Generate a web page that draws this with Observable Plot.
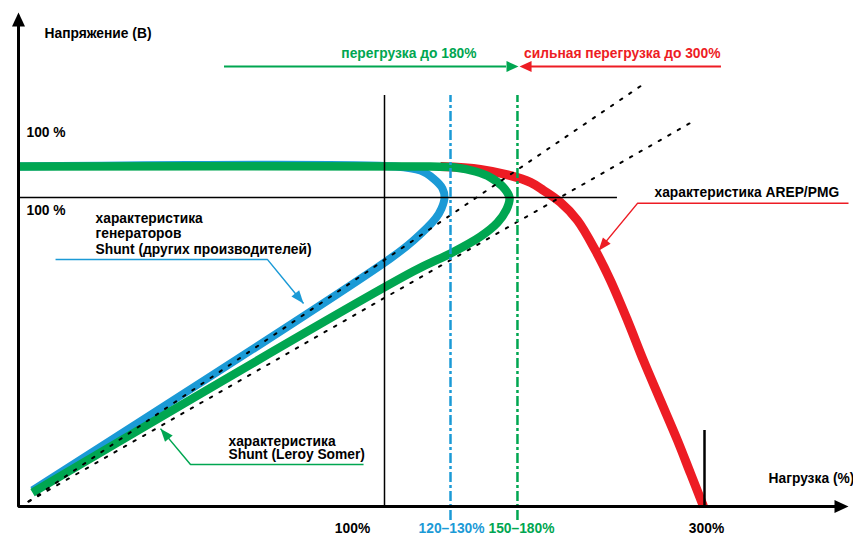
<!DOCTYPE html>
<html><head><meta charset="utf-8">
<script src="https://cdn.jsdelivr.net/npm/d3@7"></script>
<script src="https://cdn.jsdelivr.net/npm/@observablehq/plot@0.6"></script>
<style>body{margin:0;background:#fff}svg{display:block}</style>
</head><body><div id="chart"></div>
<script>
// ---- data (x = load %, y = voltage %) ----
const shuntOtherLoad = [-128.75, 106.9, 122.5, 130.6, 136.25, 137.5, 135.6, 131.9, 118.1, 103.75, -120];
const shuntOtherVolt = [110, 110, 108.7, 106.1, 102.9, 100, 96.4, 93.2, 86.1, 80.3, 5.2];
const leroyLoad = [-128.75, 128.75, 144.4, 156.9, 166.25, 173.75, 178.1, 176.25, 170.6, 160, 141.25, 118.1, -120];
const leroyVolt = [110, 110, 109.7, 108.4, 106.5, 103.6, 100, 96.1, 91.9, 87.4, 81.9, 76.1, 4.5];
const arepLoad = [135, 160, 178.75, 191.25, 199.4, 210, 220.6, 231.9, 241.25, 251.9, 261.9, 272.5, 283.1, 291.25, 299.4];
const arepVolt = [110, 109.1, 107.1, 104.9, 102.3, 98.4, 92.6, 82.8, 73.1, 60.2, 47.2, 34.3, 21.4, 10.7, 0];

const refALoad = [-122.5, 262.5], refAVolt = [1.6, 136.9];
const refBLoad = [-122.5, 293.75], refBVolt = [1.6, 124.9];

const axisOriginLoad = -128.75, axisEndLoad = 390, axisTopVolt = 159.9;
const ratedLoad = 100, maxLoad = 300, ratedVolt = 100;
const shuntOtherLimit = 141.25, leroyLimit = 183.1;

const tickLabels = ["100%", "120–130%", "150–180%", "300%"];
const tickLoads = [80, 141.9, 185.6, 301.25];
const tickVolt = -7.1;

const blueNoteLines = ["характеристика", "генераторов", "Shunt (других производителей)"];
const blueNoteVolt = [93.2, 88.3, 83.2], blueNoteLoad = -80.6;
const greenNoteLines = ["характеристика", "Shunt (Leroy Somer)"];
const greenNoteVolt = [21.0, 16.7], greenNoteLoad = 2.5;
const arepNote = "характеристика AREP/PMG", arepNoteLoad = 268.75, arepNoteVolt = 101.6;

const blueLeaderLoad = [-105.6, 26.9, 49.4], blueLeaderVolt = [79.9, 79.9, 65.7];
const greenLeaderLoad = [86.9, -21.25, -40], greenLeaderVolt = [13.6, 13.6, 25.2];
const redLeaderLoad = [390, 258.1, 233.75], redLeaderVolt = [98.1, 98.1, 82.8];

const overloadText = "перегрузка до 180%", overloadEndLoad = 157.5;
const heavyText = "сильная перегрузка до 300%", heavyEndLoad = 310;
const bandVolt = 142.4, bandTextVolt = 146.6;
const greenBand = [0, 176.25, 183.75];   // start, shaft end, tip
const redBand = [310.6, 191.9, 184.4];

// ---- helpers ----
const GREEN = "#00a651", BLUE = "#1b9ad6", RED = "#ed1c24";
const zip = (xs, ys) => xs.map((x, i) => ({x, y: ys[i]}));
const W = 853, H = 536;
const xDom = [-140, 393.125], yDom = [-9.709, 163.754];
const kx = W / (xDom[1] - xDom[0]), ky = H / (yDom[1] - yDom[0]);
const heading = (p, q) => Math.atan2((q.x - p.x) * kx, (q.y - p.y) * ky) * 180 / Math.PI;
const FONT = "Liberation Sans, Arial, Helvetica, sans-serif";
const txt = {fontFamily: FONT, fontSize: 13.8, fontWeight: "bold"};

function leader(xs, ys, color) {
  const pts = zip(xs, ys);
  const a = pts[pts.length - 2], b = pts[pts.length - 1];
  return [
    Plot.line(pts, {x: "x", y: "y", stroke: color, strokeWidth: 1.5, strokeLinejoin: "miter", strokeLinecap: "butt"}),
    Plot.vector([b], {x: "x", y: "y", length: 13, rotate: heading(a, b), shape: "spike", r: 5, anchor: "end", fill: color, stroke: "none"})
  ];
}

const curveOpts = {x: "x", y: "y", curve: "catmull-rom", strokeLinecap: "butt", strokeLinejoin: "round"};

const chart = Plot.plot({
  width: W, height: H, margin: 0,
  x: {domain: xDom, axis: null},
  y: {domain: yDom, axis: null},
  style: {background: "#fff"},
  marks: [
    // curves
    Plot.line(zip(arepLoad, arepVolt), {...curveOpts, stroke: RED, strokeWidth: 9}),
    Plot.line(zip(shuntOtherLoad, shuntOtherVolt), {...curveOpts, stroke: BLUE, strokeWidth: 8}),
    Plot.line(zip(leroyLoad, leroyVolt), {...curveOpts, stroke: GREEN, strokeWidth: 8.5}),
    // dotted reference lines
    Plot.line(zip(refALoad, refAVolt), {x: "x", y: "y", stroke: "#000", strokeWidth: 2, strokeDasharray: "2.5,8.5"}),
    Plot.line(zip(refBLoad, refBVolt), {x: "x", y: "y", stroke: "#000", strokeWidth: 2, strokeDasharray: "2.5,8.5"}),
    // thin reference rules
    Plot.ruleX([ratedLoad], {y1: 0, y2: 133, stroke: "#000", strokeWidth: 1.5}),
    Plot.ruleY([ratedVolt], {x1: axisOriginLoad, x2: 245.6, stroke: "#000", strokeWidth: 1.5}),
    Plot.ruleX([maxLoad], {y1: 0, y2: 24.6, stroke: "#000", strokeWidth: 2.5}),
    Plot.ruleX([shuntOtherLimit], {y1: -4.5, y2: 133, stroke: BLUE, strokeWidth: 2.5, strokeDasharray: "10,3,3,3"}),
    Plot.ruleX([leroyLimit], {y1: -4.5, y2: 133, stroke: GREEN, strokeWidth: 2.5, strokeDasharray: "10,3,3,3"}),
    // axes
    Plot.line([{x: axisOriginLoad, y: axisTopVolt - 4}, {x: axisOriginLoad, y: 0}, {x: axisEndLoad - 7, y: 0}],
      {x: "x", y: "y", stroke: "#000", strokeWidth: 3, strokeLinejoin: "miter", strokeLinecap: "butt"}),
    Plot.vector([{x: axisOriginLoad, y: axisTopVolt}], {x: "x", y: "y", length: 14, rotate: 0, shape: "spike", r: 6.5, anchor: "end", fill: "#000", stroke: "none"}),
    Plot.vector([{x: axisEndLoad, y: 0}], {x: "x", y: "y", length: 14, rotate: 90, shape: "spike", r: 6.5, anchor: "end", fill: "#000", stroke: "none"}),
    // overload band arrows
    Plot.ruleY([bandVolt], {x1: greenBand[0], x2: greenBand[1], stroke: GREEN, strokeWidth: 2}),
    Plot.vector([{x: greenBand[2], y: bandVolt}], {x: "x", y: "y", length: 12, rotate: 90, shape: "spike", r: 5.5, anchor: "end", fill: GREEN, stroke: "none"}),
    Plot.ruleY([bandVolt], {x1: redBand[1], x2: redBand[0], stroke: RED, strokeWidth: 2}),
    Plot.vector([{x: redBand[2], y: bandVolt}], {x: "x", y: "y", length: 12, rotate: -90, shape: "spike", r: 5.5, anchor: "end", fill: RED, stroke: "none"}),
    Plot.text([overloadText], {x: overloadEndLoad, y: bandTextVolt, text: d => d, textAnchor: "end", fill: GREEN, ...txt}),
    Plot.text([heavyText], {x: heavyEndLoad, y: bandTextVolt, text: d => d, textAnchor: "end", fill: RED, ...txt}),
    // leaders
    ...leader(blueLeaderLoad, blueLeaderVolt, BLUE),
    ...leader(greenLeaderLoad, greenLeaderVolt, GREEN),
    ...leader(redLeaderLoad, redLeaderVolt, RED),
    // annotations
    Plot.text(blueNoteLines, {x: blueNoteLoad, y: (d, i) => blueNoteVolt[i], text: d => d, textAnchor: "start", fill: "#000", ...txt}),
    Plot.text(greenNoteLines, {x: greenNoteLoad, y: (d, i) => greenNoteVolt[i], text: d => d, textAnchor: "start", fill: "#000", ...txt}),
    Plot.text([arepNote], {x: arepNoteLoad, y: arepNoteVolt, text: d => d, textAnchor: "start", fill: "#000", ...txt}),
    // axis titles and labels
    Plot.text(["Напряжение (В)"], {x: -112.5, y: 153.0, text: d => d, textAnchor: "start", fill: "#000", ...txt}),
    Plot.text(["100 %", "100 %"], {x: -123.75, y: (d, i) => [121.0, 95.8][i], text: d => d, textAnchor: "start", fill: "#000", ...txt}),
    Plot.text(["Нагрузка (%)"], {x: 340, y: 9.1, text: d => d, textAnchor: "start", fill: "#000", ...txt}),
    Plot.text(tickLabels, {x: (d, i) => tickLoads[i], y: tickVolt, text: d => d, textAnchor: "middle",
      fill: (d, i) => ["#000", BLUE, GREEN, "#000"][i], ...txt})
  ]
});
document.getElementById("chart").append(chart);
</script>
</body></html>
